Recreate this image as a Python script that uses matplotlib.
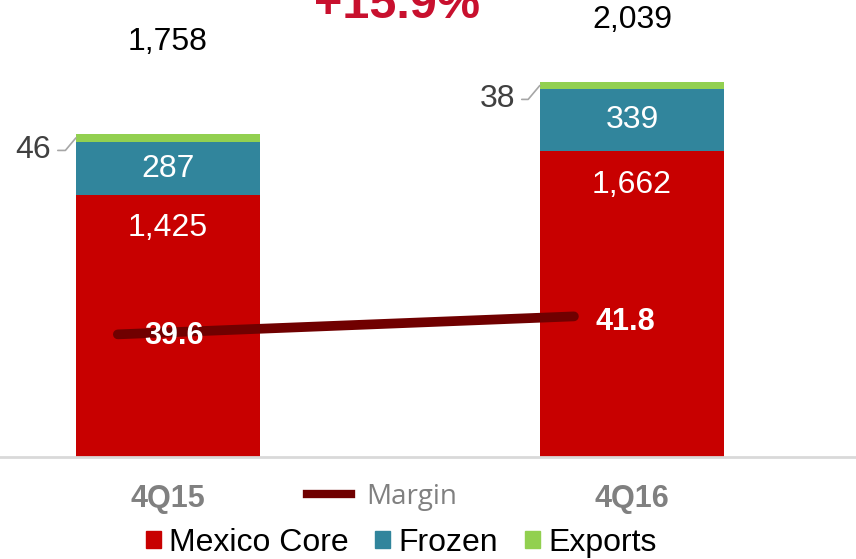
import matplotlib
matplotlib.use("Agg")
import matplotlib.pyplot as plt
from matplotlib.lines import Line2D
from matplotlib.patches import Patch

periods = ["4Q15", "4Q16"]
mexico_core = [1425, 1662]
frozen = [287, 339]
exports = [46, 38]
totals = [1758, 2039]
margin = [39.6, 41.8]
growth_label = "+15.9%"

RED, TEAL, GREEN, DARK = "#C80000", "#31859C", "#92D050", "#700000"
plt.rcParams["font.family"] = ["Liberation Sans Narrow", "Liberation Sans", "DejaVu Sans"]

W, H = 856, 559
fig = plt.figure(figsize=(W / 100, H / 100), dpi=100)
ax = fig.add_axes([0, 102 / H, 1, 457 / H])
x = [0, 1]
bw = 0.397
ax.bar(x, mexico_core, bw, color=RED, label="Mexico Core")
ax.bar(x, frozen, bw, bottom=mexico_core, color=TEAL, label="Frozen")
base2 = [a + b for a, b in zip(mexico_core, frozen)]
ax.bar(x, exports, bw, bottom=base2, color=GREEN, label="Exports")
ax.set_xlim(-0.362, 1.483)
ax.set_ylim(0, 2485)
for s in ["top", "left", "right"]:
    ax.spines[s].set_visible(False)
ax.spines["bottom"].set_color("#D9D9D9")
ax.spines["bottom"].set_linewidth(2)
ax.set_xticks([]); ax.set_yticks([])

fs = 23
for i in x:
    ax.annotate(f"{mexico_core[i]:,}", (i, mexico_core[i]), xytext=(0, -24),
                textcoords="offset points", ha="center", va="center",
                color="white", fontsize=fs)
    ax.text(i, mexico_core[i] + frozen[i] / 2, f"{frozen[i]:,}", ha="center",
            va="center", color="white", fontsize=fs)
total_off = [66, 45]
lead_dy = [-9, -10]
for i in x:
    ax.annotate(f"{totals[i]:,}", (i, totals[i]), xytext=(0, total_off[i]),
                textcoords="offset points", ha="center", va="center",
                color="black", fontsize=fs)
    # exports label with leader line
    top = base2[i] + exports[i]
    ax.annotate(f"{exports[i]}", (i - bw / 2, top - exports[i] / 2),
                xytext=(-18, lead_dy[i]), textcoords="offset points", ha="right",
                va="center", color="#404040", fontsize=fs,
                arrowprops=dict(arrowstyle="-", color="#A6A6A6", lw=1.2,
                                connectionstyle="angle,angleA=0,angleB=50,rad=0",
                                shrinkA=3, shrinkB=0))

ax.text(397 / W * (1.483 + 0.362) - 0.362, 2455, growth_label, ha="center",
        va="center", color="#C8102E", fontsize=35, fontweight="bold")

# margin on secondary axis
ax2 = ax.twinx()
ax2.set_ylim(24.6, 80.5)
ax2.axis("off")
shift = [-0.108, -0.125]
ax2.plot([x[i] + shift[i] for i in x], margin, color=DARK, lw=7,
         solid_capstyle="round", label="Margin")
lab_shift = [0.013, -0.015]
lab_dy = [-0.2, -0.7]
for i in x:
    ax2.text(x[i] + lab_shift[i], margin[i] + lab_dy[i], f"{margin[i]}",
             ha="center", va="center", color="white", fontsize=22,
             fontweight="bold")

# category labels
for i in x:
    fig.text((168 + 464 * i) / W, 1 - 499 / H, periods[i], ha="center",
             va="center", color="#808080", fontsize=22, fontweight="bold")

fig.legend(handles=[Line2D([], [], color=DARK, lw=6)], labels=["Margin"],
           loc="center", bbox_to_anchor=(382 / W, 1 - 497 / H), frameon=False,
           handlelength=1.6, handletextpad=0.55, prop=dict(family="Open Sans", size=20),
           labelcolor="#808080")
h = [Patch(color=RED), Patch(color=TEAL), Patch(color=GREEN)]
fig.legend(handles=h, labels=["Mexico Core", "Frozen", "Exports"], loc="center",
           bbox_to_anchor=(401 / W, 1 - 543 / H), ncol=3, frameon=False,
           handlelength=0.47, handleheight=0.47, handletextpad=0.25,
           columnspacing=0.85, fontsize=23)

fig.savefig("out.png", dpi=100)
